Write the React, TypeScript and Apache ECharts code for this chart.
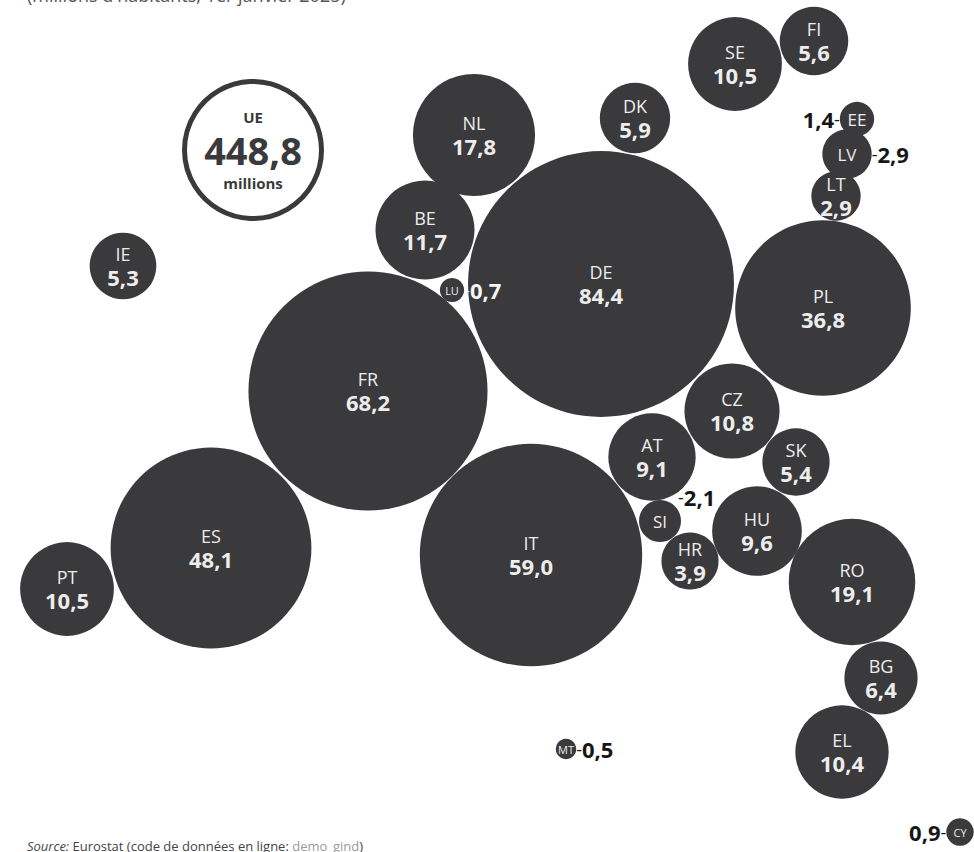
import React, { useEffect, useRef } from 'react';
import * as echarts from 'echarts';

// Population (millions, 1 January 2025)
const codes = ['DE', 'FR', 'IT', 'ES', 'PL', 'RO', 'NL', 'BE', 'CZ', 'SE', 'PT', 'EL', 'HU', 'AT', 'BG', 'DK', 'FI', 'SK', 'IE', 'HR', 'LT', 'SI', 'LV', 'EE', 'CY', 'LU', 'MT'];
const values = [84.4, 68.2, 59.0, 48.1, 36.8, 19.1, 17.8, 11.7, 10.8, 10.5, 10.5, 10.4, 9.6, 9.1, 6.4, 5.9, 5.6, 5.4, 5.3, 3.9, 2.9, 2.1, 2.9, 1.4, 0.9, 0.7, 0.5];
// Bubble placement (layout coordinates)
const posX = [601, 368, 531, 211, 823, 852, 474, 425, 732, 735, 67, 842, 757, 652, 881, 635, 814, 796, 123, 690, 836, 660, 847, 857, 960, 452, 566];
const posY = [284, 391, 555, 548, 308, 582, 135, 230, 411, 64, 589, 752, 531, 457, 678, 118, 41, 462, 266, 561, 196, 521, 154, 119, 832, 290, 749];

const euLabel = ['UE'];
const euTotal = [448.8];
const euX = [253];
const euY = [150];

const FONT = '"Open Sans", "Noto Sans", sans-serif';
const DARK = '#3a393b';
const LIGHT = '#ededed';
const INK = '#161616';
const K = 28.95; // diameter per sqrt(million)

const fmt = (v: number) => v.toFixed(1).replace('.', ',');

const outside: Record<string, { side: string; color: string }> = {
  EE: { side: 'left', color: INK },
  LV: { side: 'right', color: INK },
  LU: { side: 'right', color: '#f6f6f6' },
  MT: { side: 'right', color: INK },
  CY: { side: 'left', color: INK },
  SI: { side: 'topright', color: INK },
};

export default function App() {
  const ref = useRef<HTMLDivElement>(null);

  useEffect(() => {
    document.body.style.margin = '0';
    if (!ref.current) return;
    const chart = echarts.init(ref.current, undefined, { renderer: 'svg' });

    const mainData = codes.map((c, i) => ({ name: c, value: [posX[i], posY[i], values[i]] }));

    const outData = codes
      .map((c, i) => ({ c, i }))
      .filter(({ c }) => outside[c])
      .map(({ c, i }) => {
        const o = outside[c];
        const v = fmt(values[i]);
        let label: any;
        if (o.side === 'left') {
          label = { show: true, position: 'left', distance: 0, formatter: `{v|${v}}{d|-}` };
        } else if (o.side === 'right') {
          label = { show: true, position: 'right', distance: 0, formatter: `{d|-}{v|${v}}` };
        } else {
          label = { show: true, position: [39, -3], align: 'left', verticalAlign: 'middle', formatter: `{d|-}{v|${v}}` };
        }
        label.rich = {
          v: { fontSize: 22, fontWeight: 'bold', color: o.color, fontFamily: FONT, opacity: 1 },
          d: { fontSize: 18, color: o.color, fontFamily: FONT, opacity: 1 },
        };
        return { name: c, value: [posX[i], posY[i], values[i]], label };
      });

    const option: any = {
      animation: false,
      backgroundColor: '#ffffff',
      grid: { left: 0, right: 0, top: 0, bottom: 0 },
      xAxis: { type: 'value', min: 0, max: 974, show: false },
      yAxis: { type: 'value', min: 0, max: 852, inverse: true, show: false },
      graphic: [
        {
          type: 'text',
          x: 27,
          y: -14,
          style: {
            text: "(millions d'habitants, 1er janvier 2025)",
            font: `18px ${FONT}`,
            fill: '#555555',
            verticalAlign: 'top',
          },
        },
        {
          type: 'text',
          x: 27,
          y: 839,
          style: {
            text: '{i|Source:} {n|Eurostat (code de données en ligne: }{g|demo_gind}{n|)}',
            verticalAlign: 'top',
            rich: {
              i: { fontSize: 13, fontStyle: 'italic', fill: '#444', fontFamily: FONT },
              n: { fontSize: 13, fill: '#444', fontFamily: FONT },
              g: { fontSize: 13, fill: '#9a9a9a', fontFamily: FONT },
            },
          },
        },
      ],
      series: [
        {
          type: 'scatter',
          silent: true,
          z: 1,
          data: euTotal.map((v, i) => ({ name: euLabel[i], value: [euX[i], euY[i], v] })),
          symbol: 'circle',
          symbolSize: 137,
          itemStyle: { color: '#ffffff', borderColor: DARK, borderWidth: 5, opacity: 1 },
          label: {
            show: true,
            position: 'inside',
            formatter: (p: any) => `{a|${p.name}}\n{b|${fmt(p.value[2])}}\n{a|millions}`,
            rich: {
              a: { fontSize: 15, fontWeight: 'bold', color: DARK, fontFamily: FONT, lineHeight: 24 },
              b: { fontSize: 38, fontWeight: 'bold', color: DARK, fontFamily: FONT, lineHeight: 42 },
            },
          },
        },
        {
          type: 'scatter',
          silent: true,
          z: 2,
          data: mainData,
          symbol: 'circle',
          symbolSize: (val: number[]) => K * Math.sqrt(val[2]),
          itemStyle: { color: DARK, opacity: 1 },
          label: {
            show: true,
            position: 'inside',
            formatter: (p: any) => {
              const c = p.name;
              const v = p.value[2];
              if (outside[c]) return v < 1 ? `{t|${c}}` : `{s|${c}}`;
              return `{c|${c}}\n{v|${fmt(v)}}`;
            },
            rich: {
              c: { fontSize: 18, color: LIGHT, fontFamily: FONT, lineHeight: 21 },
              v: { fontSize: 22, fontWeight: 'bold', color: LIGHT, fontFamily: FONT, lineHeight: 25 },
              s: { fontSize: 17, color: LIGHT, fontFamily: FONT },
              t: { fontSize: 11, color: LIGHT, fontFamily: FONT },
            },
          },
        },
        {
          type: 'scatter',
          silent: true,
          z: 3,
          data: outData,
          symbol: 'circle',
          symbolSize: (val: number[]) => K * Math.sqrt(val[2]),
          itemStyle: { color: 'rgba(0,0,0,0)', borderWidth: 0, opacity: 1 },
          label: { show: true, opacity: 1 },
        },
      ],
    };

    chart.setOption(option);
    return () => chart.dispose();
  }, []);

  return <div ref={ref} style={{ width: 974, height: 852 }} />;
}
